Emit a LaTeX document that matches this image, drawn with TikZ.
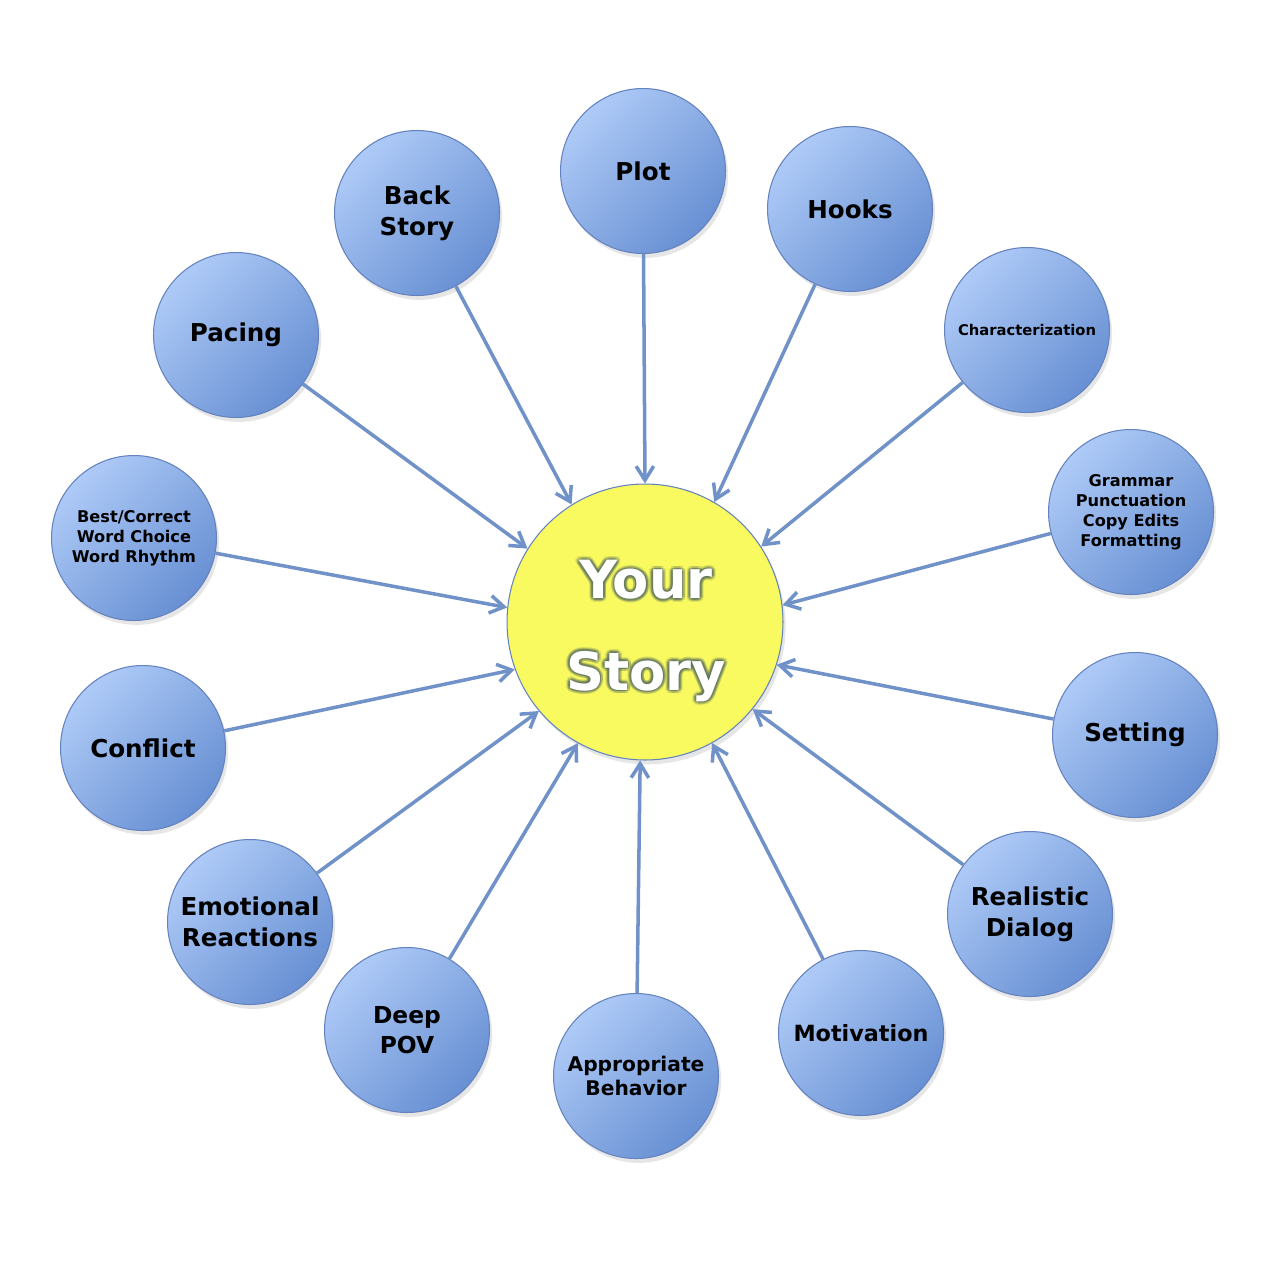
\documentclass[tikz,border=0pt]{standalone}
\usepackage{fontspec}
\setmainfont{DejaVu Sans}
\usetikzlibrary{arrows.meta,shadows}

\definecolor{bubbletop}{RGB}{174,202,247}
\definecolor{bubblebot}{RGB}{104,144,211}
\definecolor{bubbleedge}{RGB}{100,130,190}
\definecolor{arrowblue}{RGB}{112,146,201}
\definecolor{storyyellow}{RGB}{248,250,96}
\definecolor{glow}{RGB}{90,110,90}

\tikzset{
  bubble/.style={circle, minimum size=3.3cm, inner sep=0pt, draw=bubbleedge, line width=0.6pt,
    top color=bubbletop, bottom color=bubblebot, shading angle=45, align=center,
    font=\bfseries\fontsize{14}{17.6}\selectfont,
    drop shadow={shadow xshift=1.5pt, shadow yshift=-2.5pt, opacity=0.2}},
  feed/.style={draw=arrowblue, line width=2pt, -{Straight Barb[length=8pt,width=10pt]}},
  storytext/.style={align=center, font=\bfseries\fontsize{30}{52}\selectfont}
}

\begin{document}
\begin{tikzpicture}[x=0.02cm, y=-0.02cm]
    \useasboundingbox (0,0) rectangle (1270,1264);
    % Draw centre circle
    \node[circle, minimum size=5.52cm, inner sep=0pt, draw=bubbleedge, line width=0.6pt, fill=storyyellow,
      drop shadow={shadow xshift=1.5pt, shadow yshift=-2.5pt, opacity=0.2}] (story) at (645,622) {};
    % Draw outer bubbles
    \node[bubble] (plot) at (643,171) {Plot};
    \node[bubble] (backstory) at (417,213) {Back\\Story};
    \node[bubble] (hooks) at (850,209) {Hooks};
    \node[bubble] (pacing) at (236,335) {Pacing};
    \node[bubble, font=\bfseries\fontsize{8.4}{10}\selectfont] (character) at (1027,330) {Characterization};
    \node[bubble, font=\bfseries\fontsize{9.2}{11.3}\selectfont] (wordchoice) at (134,538) {Best/Correct\\Word Choice\\Word Rhythm};
    \node[bubble, font=\bfseries\fontsize{9.2}{11.3}\selectfont] (grammar) at (1131,512) {Grammar\\Punctuation\\Copy Edits\\Formatting};
    \node[bubble] (conflict) at (143,748) {Conflict};
    \node[bubble] (setting) at (1135,735) {Setting};
    \node[bubble] (emotion) at (250,922) {Emotional\\Reactions};
    \node[bubble] (dialog) at (1030,914) {Realistic\\Dialog};
    \node[bubble, font=\bfseries\fontsize{13.3}{17}\selectfont] (deeppov) at (407,1030) {Deep\\POV};
    \node[bubble, font=\bfseries\fontsize{11.5}{14}\selectfont] (behavior) at (636,1076) {Appropriate\\Behavior};
    \node[bubble, font=\bfseries\fontsize{12.7}{15}\selectfont] (motivation) at (861,1033) {Motivation};
    % Draw arrows into the centre
    \foreach \n/\a in {plot/90, hooks/60, backstory/122, character/33, pacing/148, grammar/7,
        wordchoice/174, setting/-18, conflict/-160, dialog/-39, emotion/-140, motivation/-61,
        deeppov/-119, behavior/-92}
        \draw[feed] (\n) -- (story.\a);
    % Draw centre title with glow
    \coordinate (title) at (646,631);
    \foreach \r in {1pt,2pt}
        \foreach \a in {0,30,...,330}
            \node[storytext, text=glow, text opacity=0.18] at ([shift={(\a:\r)}]title) {Your\\Story};
    \node[storytext, text=white] at (title) {Your\\Story};
\end{tikzpicture}
\end{document}
